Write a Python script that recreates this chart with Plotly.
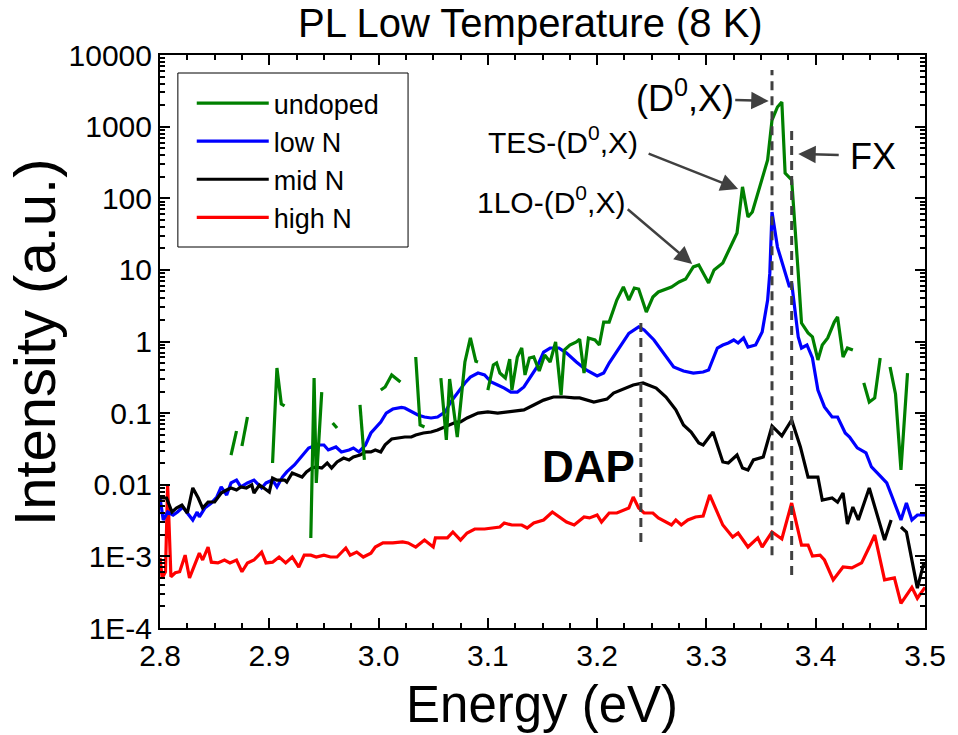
import plotly.graph_objects as go

# ---------------- data (energy in eV, intensity in a.u.) ----------------
energy_high = [2.800, 2.802, 2.805, 2.807, 2.810, 2.814, 2.818, 2.823, 2.827, 2.832, 2.836, 2.839,
               2.844, 2.847, 2.853, 2.859, 2.864, 2.870, 2.875, 2.880, 2.886, 2.893, 2.897, 2.903,
               2.909, 2.915, 2.921, 2.927, 2.932, 2.938, 2.943, 2.950, 2.956, 2.962, 2.970, 2.974,
               2.980, 2.986, 2.993, 2.997, 3.004, 3.013, 3.022, 3.027, 3.034, 3.042, 3.050, 3.052,
               3.063, 3.068, 3.075, 3.081, 3.088, 3.097, 3.106, 3.111, 3.115, 3.122, 3.131, 3.136,
               3.142, 3.151, 3.159, 3.166, 3.172, 3.179, 3.188, 3.193, 3.200, 3.204, 3.211, 3.218,
               3.224, 3.229, 3.233, 3.238, 3.243, 3.251, 3.256, 3.263, 3.268, 3.272, 3.277, 3.283,
               3.290, 3.297, 3.303, 3.315, 3.324, 3.329, 3.338, 3.347, 3.351, 3.360, 3.369, 3.378,
               3.387, 3.393, 3.397, 3.404, 3.408, 3.416, 3.425, 3.433, 3.442, 3.449, 3.454, 3.463,
               3.472, 3.478, 3.488, 3.493, 3.500]
int_high = [0.00095, 0.00050, 0.00061, 0.0099, 0.00052, 0.00059, 0.00061, 0.00104, 0.00050, 0.00076,
            0.00111, 0.00089, 0.00135, 0.00083, 0.00081, 0.00089, 0.00081, 0.00089, 0.00061, 0.00081,
            0.00089, 0.00115, 0.00081, 0.00083, 0.00098, 0.00081, 0.00098, 0.00071, 0.00104, 0.00104,
            0.00098, 0.00104, 0.00098, 0.00098, 0.00131, 0.00104, 0.00115, 0.00098, 0.00111, 0.00135,
            0.00154, 0.00154, 0.00159, 0.00154, 0.00135, 0.00169, 0.00135, 0.00181, 0.00181, 0.00219,
            0.00169, 0.00212, 0.00241, 0.00241, 0.00249, 0.00257, 0.00292, 0.00274, 0.00274, 0.00249,
            0.00292, 0.00322, 0.00416, 0.00344, 0.00302, 0.00274, 0.00355, 0.00344, 0.00378, 0.00302,
            0.00403, 0.00403, 0.00444, 0.00473, 0.00675, 0.00473, 0.00403, 0.00403, 0.00344, 0.00302,
            0.00274, 0.00322, 0.00274, 0.00322, 0.00355, 0.00366, 0.0072, 0.00274, 0.00186, 0.00212,
            0.00135, 0.00181, 0.00135, 0.00219, 0.00175, 0.00556, 0.00144, 0.00144, 0.00101, 0.00104,
            0.00089, 0.00047, 0.00071, 0.00069, 0.00081, 0.00135, 0.00199, 0.00047, 0.00050, 0.00022,
            0.00037, 0.00026, 0.00037]

energy_mid = [2.800, 2.806, 2.811, 2.815, 2.820, 2.825, 2.830, 2.835, 2.839, 2.844, 2.850, 2.856,
              2.861, 2.865, 2.870, 2.874, 2.879, 2.884, 2.886, 2.891, 2.895, 2.900, 2.903, 2.907,
              2.914, 2.916, 2.921, 2.925, 2.930, 2.934, 2.939, 2.943, 2.948, 2.953, 2.957, 2.962,
              2.968, 2.973, 2.977, 2.983, 2.988, 2.993, 2.997, 3.002, 3.006, 3.012, 3.018, 3.024,
              3.030, 3.034, 3.041, 3.048, 3.054, 3.061, 3.066, 3.071, 3.075, 3.081, 3.091, 3.100,
              3.109, 3.121, 3.133, 3.142, 3.151, 3.160, 3.170, 3.179, 3.184, 3.197, 3.209, 3.215,
              3.224, 3.233, 3.242, 3.247, 3.254, 3.263, 3.272, 3.279, 3.286, 3.293, 3.297, 3.306,
              3.315, 3.320, 3.328, 3.333, 3.338, 3.343, 3.352, 3.360, 3.369, 3.378, 3.386, 3.393,
              3.402, 3.406, 3.415, 3.420, 3.425, 3.429, 3.434, 3.439, 3.449, 3.463, 3.469, None,
              3.478, 3.483, 3.493, 3.499]
int_mid = [0.00653, 0.00653, 0.00416, 0.00473, 0.00521, 0.00403, 0.00902, 0.00653, 0.00473, 0.00574,
           0.00574, 0.00767, 0.00845, 0.00902, 0.00845, 0.00931, 0.00902, 0.00993, 0.00767, 0.00993,
           0.00902, 0.00793, 0.0124, 0.0116, 0.0116, 0.0109, 0.0146, 0.0137, 0.0128, 0.0151,
           0.0171, 0.0177, 0.0171, 0.0201, 0.0171, 0.0208, 0.0236, 0.0222, 0.0244, 0.0260,
           0.0287, 0.0287, 0.0306, 0.0287, 0.036, 0.0435, 0.0450, 0.0464, 0.0464, 0.0495,
           0.0528, 0.0545, 0.0581, 0.0640, 0.0683, 0.0752, 0.0752, 0.0855, 0.100, 0.104,
           0.100, 0.104, 0.111, 0.130, 0.152, 0.168, 0.168, 0.163, 0.163, 0.143,
           0.157, 0.191, 0.217, 0.247, 0.264, 0.247, 0.224, 0.168, 0.111, 0.0683,
           0.0545, 0.0383, 0.0359, 0.0545, 0.0208, 0.0201, 0.0260, 0.0171, 0.0161, 0.0222,
           0.0244, 0.0661, 0.0480, 0.0802, 0.0337, 0.0128, 0.0128, 0.0061, 0.00653, 0.0057,
           0.00767, 0.00283, 0.00489, 0.00322, 0.00902, 0.00169, 0.00322, None,
           0.00257, 0.00219, 0.00036, 0.00081]

energy_low = [2.800, 2.803, 2.807, 2.812, 2.816, 2.821, 2.825, 2.830, 2.834, 2.836, 2.841, 2.847,
              2.852, 2.856, 2.861, 2.865, 2.870, 2.874, 2.880, 2.886, 2.893, 2.897, 2.903, 2.907,
              2.912, 2.916, 2.923, 2.929, 2.936, 2.943, 2.950, 2.954, 2.961, 2.966, 2.973, 2.977,
              2.982, 2.988, 2.993, 3.002, 3.007, 3.013, 3.021, 3.024, 3.030, 3.036, 3.042, 3.048,
              3.054, 3.061, 3.066, 3.072, 3.079, 3.084, 3.091, 3.097, 3.103, 3.109, 3.115, 3.121,
              3.127, 3.133, 3.139, 3.145, 3.151, 3.157, 3.165, 3.172, 3.181, 3.190, 3.200, 3.206,
              3.211, 3.220, 3.229, 3.238, 3.243, 3.252, 3.261, 3.270, 3.279, 3.288, 3.297, 3.302,
              3.310, 3.315, 3.320, 3.325, 3.329, 3.334, 3.338, 3.345, 3.351, 3.356, 3.358, 3.360,
              3.365, 3.372, 3.376, 3.378, 3.381, 3.384, 3.387, 3.392, 3.397, 3.402, 3.408, 3.415,
              3.420, 3.427, 3.431, 3.438, 3.446, 3.451, 3.460, 3.465, 3.470, 3.478, 3.483, 3.488,
              3.493, 3.500]
int_low = [0.00653, 0.00322, 0.00416, 0.00378, 0.00416, 0.00489, 0.00403, 0.00322, 0.00416, 0.00355,
           0.00473, 0.00556, 0.00675, 0.00931, 0.00719, 0.0106, 0.0116, 0.00931, 0.0106, 0.0116,
           0.00902, 0.0106, 0.0116, 0.00931, 0.0128, 0.0151, 0.0189, 0.0244, 0.0326, 0.0359,
           0.0359, 0.0306, 0.0337, 0.0287, 0.0306, 0.0326, 0.0287, 0.0359, 0.0528, 0.0752,
           0.100, 0.114, 0.120, 0.118, 0.104, 0.0941, 0.0883, 0.0855, 0.0883, 0.104,
           0.143, 0.191, 0.264, 0.319, 0.363, 0.341, 0.272, 0.247, 0.224, 0.197,
           0.197, 0.232, 0.319, 0.441, 0.713, 0.811, 0.811, 0.690, 0.518, 0.400,
           0.330, 0.363, 0.501, 0.811, 1.30, 1.60, 1.45, 1.05, 0.690, 0.441,
           0.388, 0.363, 0.375, 0.400, 0.811, 0.894, 0.953, 1.05, 0.953, 1.12,
           0.838, 0.894, 1.36, 3.79, 9.0, 64.3, 20.8, 9.04, 5.77, 6.56,
           3.03, 1.16, 0.811, 0.894, 0.589, 0.210, 0.122, 0.0883, 0.0883, 0.0528,
           0.0464, 0.0327, 0.0278, 0.0177, 0.0128, 0.0106, 0.00675, 0.00322, 0.00556, 0.00322,
           0.00378, 0.00378]

energy_undoped = [2.865, 2.870, None, 2.875, 2.880, None, 2.903, 2.907, 2.911, 2.914, None,
                  2.938, 2.941, 2.943, 2.948, None, 2.958, 2.962, None, 2.983, 2.987, None,
                  3.002, 3.006, 3.012, 3.016, 3.020, None, 3.034, 3.038, 3.042, None,
                  3.057, 3.062, 3.065, 3.072, 3.079, 3.084, 3.089, 3.091, None,
                  3.100, 3.105, 3.108, 3.111, 3.116, 3.120, 3.122, 3.127, 3.131, 3.134,
                  3.138, 3.142, 3.147, 3.152, 3.157, 3.162, 3.167, 3.170, 3.175, 3.181,
                  3.184, 3.188, 3.192, 3.198, 3.202, 3.206, 3.211, 3.218, 3.224, 3.229,
                  3.234, 3.238, 3.245, 3.251, 3.256, 3.260, 3.268, 3.275, 3.281, 3.288,
                  3.293, 3.302, 3.307, 3.315, 3.320, 3.328, 3.333, 3.338, 3.342, 3.351,
                  3.356, 3.360, 3.365, 3.369, 3.372, 3.378, 3.381, 3.384, 3.387, 3.393,
                  3.397, 3.402, 3.406, 3.411, 3.417, 3.420, 3.425, 3.429, 3.434, None,
                  3.444, 3.449, 3.454, 3.459, None, 3.468, 3.473, 3.478, 3.484]
int_undoped = [0.0260, 0.0563, None, 0.0348, 0.0883, None, 0.0201, 0.427, 0.134, 0.126, None,
               0.00181, 0.309, 0.0106, 0.197, None, 0.0728, 0.0620, None, 0.130, 0.0222, None,
               0.210, 0.232, 0.341, 0.309, 0.272, None, 0.608, 0.0683, 0.0640, None,
               0.309, 0.0422, 0.299, 0.0464, 0.518, 1.12, 0.53, 0.518, None,
               0.210, 0.47, 0.501, 0.363, 0.309, 0.57, 0.210, 0.608, 0.811, 0.341,
               0.589, 0.608, 0.388, 0.647, 0.518, 0.985, 0.179, 0.760, 0.894, 0.985,
               1.08, 0.363, 1.12, 1.05, 0.894, 1.87, 1.87, 3.79, 5.77, 3.79,
               5.58, 5.4, 2.58, 4.18, 4.91, 5.23, 5.77, 6.77, 7.46, 11.0,
               11.7, 6.56, 9.96, 12.5, 17.8, 32.7, 144, 54.7, 64.3, 180,
               342, 1236, 1879, 2208, 225, 180, 45.1, 9.04, 1.81, 1.32,
               1.16, 0.552, 0.894, 1.12, 1.87, 2.20, 0.608, 0.811, 0.760, None,
               0.264, 0.143, 0.163, 0.589, None, 0.441, 0.185, 0.0161, 0.363]

# marker lines (energy positions, vertical extents)
dap_energy = 3.240
dap_span = [0.00159, 2.0]
d0x_energy = 3.360
d0x_span = [0.00104, 6180]
fx_energy = 3.378
fx_span = [0.00055, 1054]

y_tickvals = [1e-4, 1e-3, 1e-2, 1e-1, 1, 10, 100, 1000, 10000]
y_ticktext = ["1E-4", "1E-3", "0.01", "0.1", "1", "10", "100", "1000", "10000"]
y_minor = [k * 10.0 ** d for d in range(-4, 4) for k in range(2, 10)]

FONT = "Arial, Liberation Sans, sans-serif"
fig = go.Figure()

series = [
    ("high N", energy_high, int_high, "#FF0000", 4),
    ("low N", energy_low, int_low, "#0000FF", 2),
    ("mid N", energy_mid, int_mid, "#000000", 3),
    ("undoped", energy_undoped, int_undoped, "#008000", 1),
]
for name, xs, ys, col, rank in series:
    fig.add_trace(go.Scatter(x=xs, y=ys, mode="lines", name=name, legendrank=rank,
                             connectgaps=False, line=dict(color=col, width=3.2)))

for xe, span in [(dap_energy, dap_span), (d0x_energy, d0x_span), (fx_energy, fx_span)]:
    fig.add_trace(go.Scatter(x=[xe, xe], y=span, mode="lines", showlegend=False,
                             line=dict(color="#404040", width=3, dash="9px,6px")))

fig.update_xaxes(range=[2.8, 3.5], dtick=0.1, tick0=2.8, tickformat=".1f",
                 ticks="inside", ticklen=10, tickwidth=2, tickcolor="black",
                 showline=True, linecolor="black", linewidth=2, mirror="ticks",
                 showgrid=False, zeroline=False,
                 tickfont=dict(size=30, family=FONT, color="black"),
                 minor=dict(dtick=0.025, tick0=2.8, ticks="inside", ticklen=5,
                            tickwidth=1.5, tickcolor="black", showgrid=False))
fig.update_yaxes(type="log", range=[-4, 4], tickmode="array", tickvals=y_tickvals,
                 ticktext=y_ticktext, ticks="inside", ticklen=10, tickwidth=2,
                 tickcolor="black", showline=True, linecolor="black", linewidth=2,
                 mirror="ticks", showgrid=False, zeroline=False,
                 tickfont=dict(size=30, family=FONT, color="black"),
                 minor=dict(tickmode="array", tickvals=y_minor, ticks="inside", ticklen=5,
                            tickwidth=1.5, tickcolor="black", showgrid=False))

W, H = 958, 735
L, R, T, B = 160, 27, 55, 107
pw, ph = W - L - R, H - T - B


def px(xp):
    return (xp - L) / pw


def py(yp):
    return (H - B - yp) / ph


fig.update_layout(
    width=W, height=H, margin=dict(l=L, r=R, t=T, b=B),
    plot_bgcolor="white", paper_bgcolor="white",
    font=dict(family=FONT, color="black"),
    showlegend=True,
    legend=dict(x=px(192), y=py(79), xanchor="left", yanchor="top",
                bgcolor="rgba(0,0,0,0)", borderwidth=0,
                font=dict(size=27, family=FONT, color="black"),
                itemwidth=72, tracegroupgap=0),
)

fig.add_shape(type="rect", xref="paper", yref="paper", x0=px(178), x1=px(410),
              y0=py(247), y1=py(73), line=dict(color="black", width=1))

ann = []
ann.append(dict(text="PL Low Temperature (8 K)", xref="paper", yref="paper",
                x=px(533), y=py(23), xanchor="center", yanchor="middle",
                showarrow=False, font=dict(size=40)))
ann.append(dict(text="Energy (eV)", xref="paper", yref="paper", x=px(545), y=py(704),
                xanchor="center", yanchor="middle", showarrow=False, font=dict(size=51)))
ann.append(dict(text="Intensity (a.u.)", xref="paper", yref="paper", x=px(33), y=py(342),
                xanchor="center", yanchor="middle", textangle=-90, showarrow=False,
                font=dict(size=58)))
ann.append(dict(text="(D<sup>0</sup>,X)", x=3.280, y=3.428, showarrow=False, font=dict(size=36)))
ann.append(dict(text="TES-(D<sup>0</sup>,X)", x=3.169, y=2.813, showarrow=False, font=dict(size=30)))
ann.append(dict(text="1LO-(D<sup>0</sup>,X)", x=3.158, y=1.976, showarrow=False, font=dict(size=30)))
ann.append(dict(text="FX", x=3.452, y=2.576, showarrow=False, font=dict(size=36)))
ann.append(dict(text="<b>DAP</b>", x=3.192, y=-1.752, showarrow=False, font=dict(size=44)))
arrow_style = dict(text="", showarrow=True, arrowhead=2, arrowsize=1.4, arrowwidth=2.5,
                   arrowcolor="#404040", axref="pixel", ayref="pixel")
ann.append(dict(x=3.357, y=3.358, ax=-35, ay=-1, **arrow_style))
ann.append(dict(x=3.384, y=2.618, ax=42, ay=1, **arrow_style))
ann.append(dict(x=3.329, y=2.129, ax=-91, ay=-36, **arrow_style))
ann.append(dict(x=3.287, y=1.082, ax=-66, ay=-56, **arrow_style))
fig.update_layout(annotations=ann)

fig.write_html("out.html")
